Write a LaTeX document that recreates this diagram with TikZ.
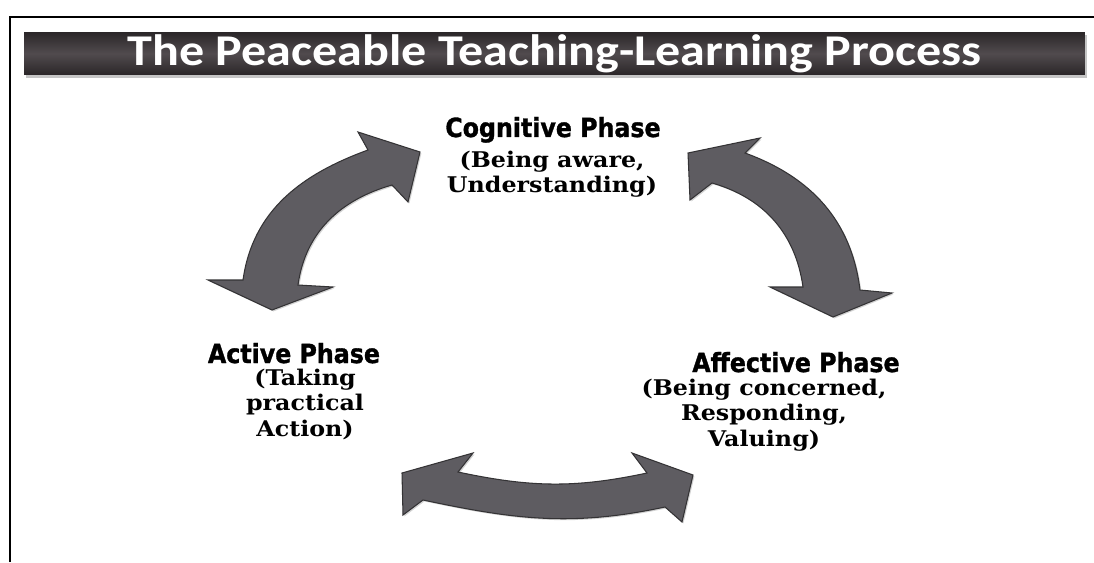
\documentclass[tikz,border=0pt]{standalone}
\usepackage{fontspec}
\usetikzlibrary{shadows}
\newfontfamily\titlefont{Carlito}
\newfontfamily\headfont{DejaVu Sans Condensed}[FakeBold=1.2]
\newfontfamily\subfont{DejaVu Serif}[FakeStretch=1.1]

\definecolor{arrowgray}{HTML}{5E5C61}
\definecolor{bardark}{HTML}{2A2628}
\definecolor{barmid}{HTML}{514B4E}

\tikzset{
  frame/.style={line width=1.6pt, black},
  titlebar/.style={top color=bardark, bottom color=bardark, middle color=barmid,
    minimum width=21.22cm, minimum height=0.86cm, inner sep=0pt, text=white,
    font=\titlefont\bfseries\fontsize{25}{28}\selectfont,
    drop shadow={shadow xshift=1.2pt, shadow yshift=-1.6pt, opacity=0.45}},
  head/.style={font=\headfont\bfseries\fontsize{15}{17}\selectfont, inner sep=0pt, anchor=base},
  sub/.style={font=\subfont\bfseries\fontsize{12.3}{14.6}\selectfont, align=center, inner sep=0pt, anchor=north},
  blockarrow/.style={fill=arrowgray, draw=arrowgray!55!black, line width=0.6pt, line join=miter,
    drop shadow={shadow xshift=0.8pt, shadow yshift=-0.8pt, opacity=0.35}}
}

\begin{document}
\begin{tikzpicture}[x=0.02cm, y=0.02cm]
\useasboundingbox (0,0) rectangle (1094,562);
\fill[white, overlay] (-20,-20) rectangle (1114,582);

% frame
\draw[frame] (10,0) -- (10,545) -- (1094,545);

% title
\node[titlebar] (title) at (554.5,508.5) {\scalebox{1.14}[1]{The Peaceable Teaching-Learning Process}};

% phases
\node[head] (cog) at (553,425) {Cognitive Phase};
\node[sub] (cogtxt) at (552,411.5) {(Being aware,\\Understanding)};

\node[head] (act) at (294,199) {Active Phase};
\node[sub] (acttxt) at (305,193.5) {(Taking\\practical\\Action)};

\node[head] (aff) at (796,190) {Affective Phase};
\node[sub] (afftxt) at (764,183.5) {(Being concerned,\\Responding,\\Valuing)};

% arrows
\draw[blockarrow] (243,282) to[out=82,in=200] (368,412) -- (358,430) -- (420,410) -- (408,360)
  -- (392,377) to[out=196,in=82] (298,277) -- (333,275) -- (272,252) -- (208,282) -- cycle;

\draw[blockarrow] (745,409) to[out=-20,in=97] (860,272) -- (892,269) -- (833,245) -- (770,275)
  -- (803,275) to[out=98,in=-16] (712,379) -- (690,362) -- (688,409) -- (760,424) -- cycle;

\draw[blockarrow] (458,90) to[out=-12,in=192] (647,89) -- (632,109) -- (693,87) -- (682,40)
  -- (665,55) to[out=192,in=-12] (423,62) -- (403,47) -- (402,89) -- (473,109) -- cycle;
\end{tikzpicture}
\end{document}
